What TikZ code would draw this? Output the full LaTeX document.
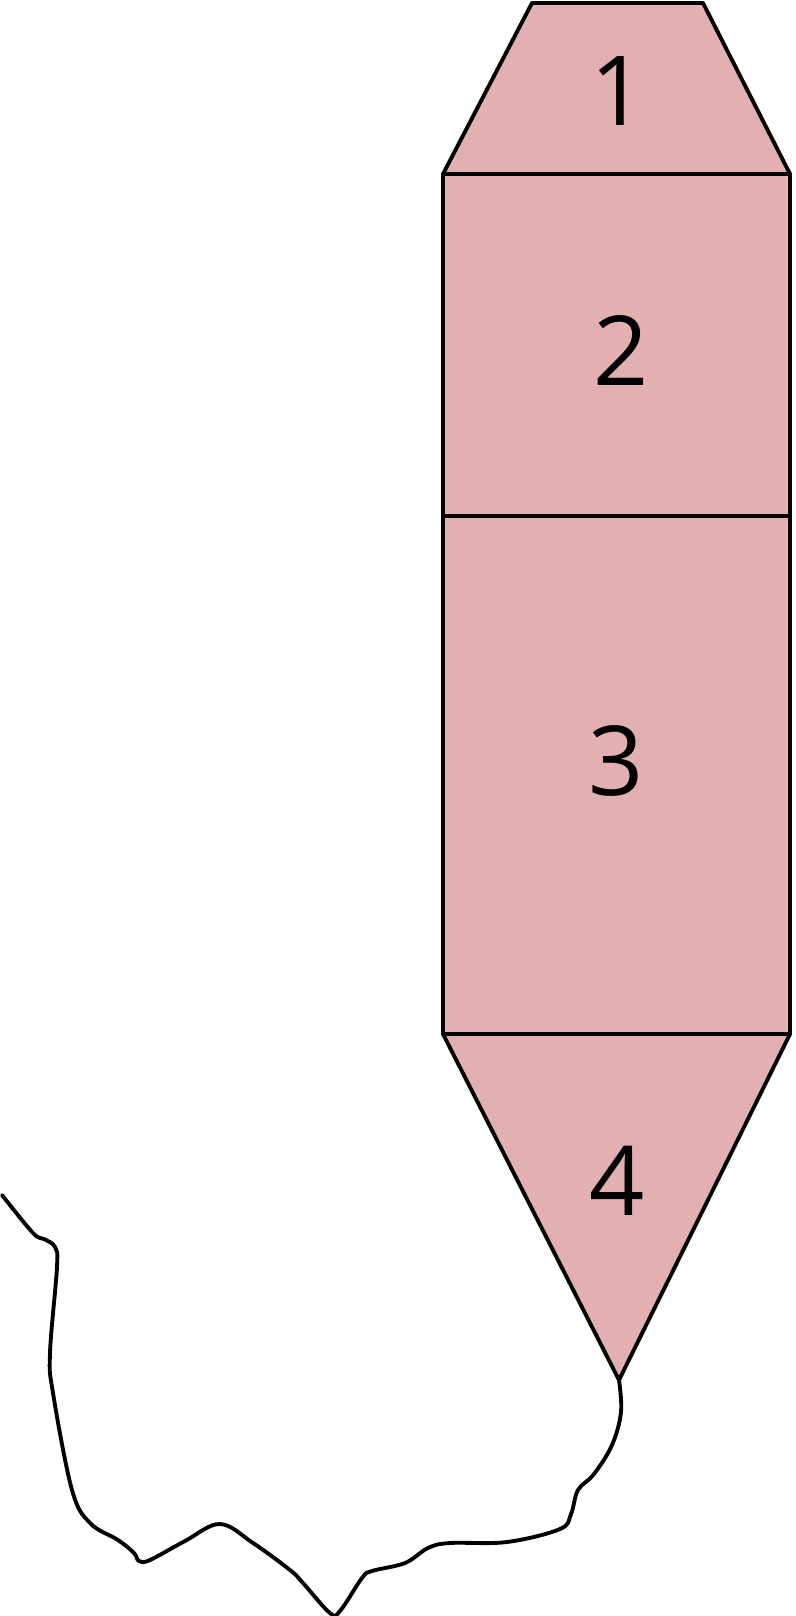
\documentclass[tikz,border=0pt]{standalone}
\usepackage{fontspec}
\setsansfont{Open Sans}
\usepackage{tikz}
\usetikzlibrary{positioning}
\definecolor{panelpink}{RGB}{226,176,176}

\begin{document}
\begin{tikzpicture}
          [x=0.02cm, y=-0.02cm, line width=2.2pt, line join=round,
           part/.style={fill=panelpink, draw=black},
           every node/.style={font=\sffamily\fontsize{55}{60}\selectfont}]
          \useasboundingbox (0,0) rectangle (795,1616);

          % the four parts
          \path[part] (532,3) -- (703,3) -- (790,174) -- (443,174) -- cycle;
          \path[part] (443,174) rectangle (790,516);
          \path[part] (443,516) rectangle (790,1034);
          \path[part] (443,1034) -- (790,1034) -- (619,1380) -- cycle;
          \coordinate (tip) at (619,1380);

          \node (one) at (618,91) {1};
          \node (two) at (621,351) {2};
          \node (three) at (616,761) {3};
          \node (four) at (617,1181) {4};

          % the string
          \draw[line cap=round] plot[smooth, tension=0.6] coordinates {
            (tip) (621,1412) (612,1445) (594,1474) (578,1490) (571,1514)
            (560,1529) (507,1542) (450,1543)
            (428,1548) (405,1563) (372,1571) (362,1578)
            (340,1611) (330,1613) (303,1583) (290,1570)
            (253,1543) (220,1524) (185,1541) (150,1560) (139,1561)
            (134,1553) (118,1540) (90,1523) (72,1490) (53,1393)
            (50,1353) (57,1267) (55,1247) (44,1239)
            (33,1233) (2,1195)};

        \end{tikzpicture}
\end{document}
